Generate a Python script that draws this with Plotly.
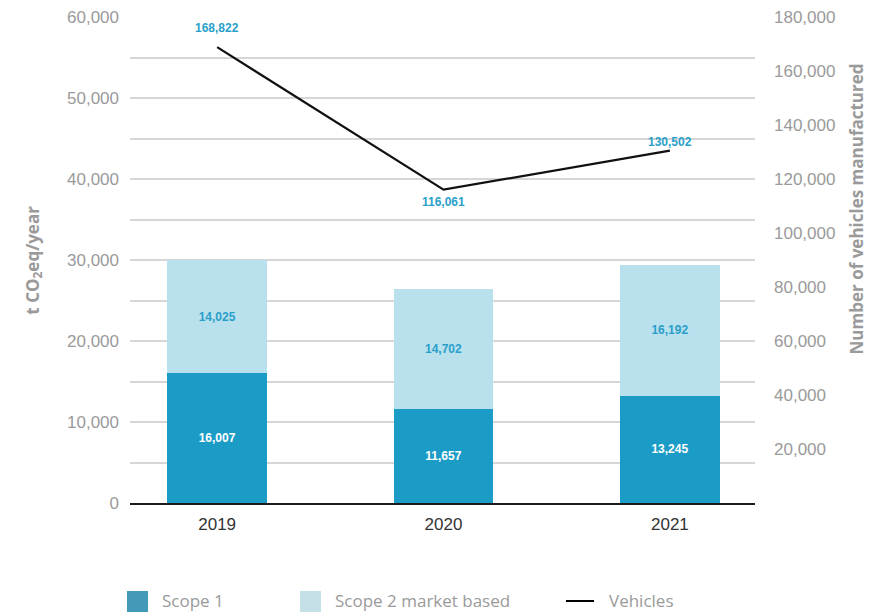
import plotly.graph_objects as go

years = ["2019", "2020", "2021"]
scope1 = [16007, 11657, 13245]
scope2 = [14025, 14702, 16192]
vehicles = [168822, 116061, 130502]
left_ticks = [0, 10000, 20000, 30000, 40000, 50000, 60000]
right_ticks = [20000, 40000, 60000, 80000, 100000, 120000, 140000, 160000, 180000]
legend_labels = ["Scope 1", "Scope 2 market based", "Vehicles"]

C1 = "#1b9cc6"
C2 = "#b9e0ed"
LBL = "#2a9fc9"
GRAY = "#9a9a9a"
GRID = "#d6d6d6"
TFONT = "Liberation Sans, Arial, sans-serif"

fig = go.Figure()
fig.add_trace(go.Bar(
    x=years, y=scope1, name=legend_labels[0], marker=dict(color=C1, line=dict(width=0)),
    width=0.44, text=[f"{v:,}" for v in scope1], textposition="inside",
    insidetextanchor="middle",
    textfont=dict(color="white", size=12, family=TFONT, weight="bold"),
    yaxis="y", showlegend=False))
fig.add_trace(go.Bar(
    x=years, y=scope2, name=legend_labels[1], marker=dict(color=C2, line=dict(width=0)),
    width=0.44, text=[f"{v:,}" for v in scope2], textposition="inside",
    insidetextanchor="middle",
    textfont=dict(color=LBL, size=12, family=TFONT, weight="bold"),
    yaxis="y", showlegend=False))
fig.add_trace(go.Scatter(
    x=years, y=vehicles, name=legend_labels[2], mode="lines",
    line=dict(color="#111111", width=2.2), yaxis="y2", showlegend=False))

shifts = [19, -12, 9]
for i, (v, s) in enumerate(zip(vehicles, shifts)):
    fig.add_annotation(x=i, y=v, xref="x", yref="y2", text=f"{v:,}",
                       showarrow=False, yshift=s,
                       font=dict(color=LBL, size=12, family=TFONT, weight="bold"))

fig.update_layout(
    width=882, height=607,
    margin=dict(l=122, r=135, t=9, b=112, autoexpand=False),
    barmode="stack",
    plot_bgcolor="white", paper_bgcolor="white",
    xaxis=dict(type="category", range=[-0.385, 2.376], showgrid=False,
               showline=True, linecolor="#1a1a1a", linewidth=2,
               tickfont=dict(family=TFONT, size=17, color="#333333"),
               ticks="", ticklabelstandoff=5, automargin=False),
    yaxis=dict(range=[0, 60000], tickvals=left_ticks, tickformat=",",
               showgrid=True, gridcolor=GRID, gridwidth=1.5,
               minor=dict(dtick=5000, tick0=0, showgrid=True, gridcolor=GRID, gridwidth=1.5),
               zeroline=False, showline=False,
               tickfont=dict(family=TFONT, size=17, color=GRAY),
               ticks="", ticklabelstandoff=10, ticklabeloverflow="allow", automargin=False),
    yaxis2=dict(range=[0, 180000], tickvals=right_ticks, tickformat=",",
                overlaying="y", side="right", showgrid=False, zeroline=False,
                showline=False,
                tickfont=dict(family=TFONT, size=17, color=GRAY),
                ticks="", ticklabelstandoff=18, ticklabeloverflow="allow", automargin=False),
)

# axis titles
fig.add_annotation(x=-0.179, y=0.50, xref="paper", yref="paper",
                   text="t CO<sub>2</sub>eq/year", textangle=-90, showarrow=False,
                   font=dict(family="Open Sans, sans-serif", size=17, color=GRAY, weight="bold"))
fig.add_annotation(x=1.184, y=0.605, xref="paper", yref="paper",
                   text="Number of vehicles manufactured", textangle=-90, showarrow=False,
                   font=dict(family="Open Sans, sans-serif", size=17, color=GRAY, weight="bold"))

# custom legend
ly = -0.2016
fig.add_shape(type="rect", xref="paper", yref="paper", x0=-0.0048, x1=0.0288,
              y0=-0.2243, y1=-0.1811, fillcolor="#4399b8", line=dict(width=0))
fig.add_shape(type="rect", xref="paper", yref="paper", x0=0.272, x1=0.3056,
              y0=-0.2243, y1=-0.1811, fillcolor="#c5e0e7", line=dict(width=0))
fig.add_shape(type="line", xref="paper", yref="paper", x0=0.6976, x1=0.7424,
              y0=ly, y1=ly, line=dict(color="black", width=2))
for xp, t in zip([0.048, 0.3248, 0.7632], legend_labels):
    fig.add_annotation(x=xp, y=ly, xref="paper", yref="paper", text=t,
                       xanchor="left", yanchor="middle", showarrow=False,
                       font=dict(family="Open Sans, sans-serif", size=17, color=GRAY))

fig.write_html("out.html")
